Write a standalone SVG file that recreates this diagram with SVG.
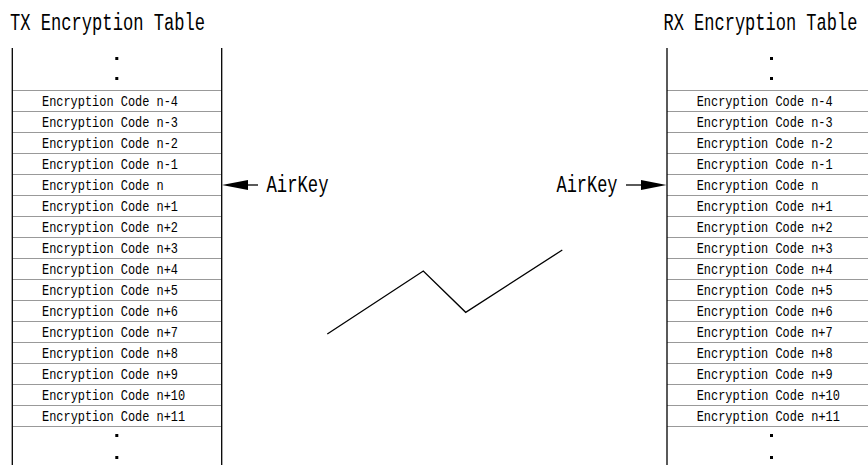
<svg xmlns="http://www.w3.org/2000/svg" width="868" height="465" viewBox="0 0 868 465">
<style>
.title{font-family:"Liberation Mono","DejaVu Sans Mono",monospace;font-size:23.5px;fill:#000}
.code{font-family:"Liberation Mono","DejaVu Sans Mono",monospace;font-size:14.5px;fill:#000}
.sep{stroke:#999;stroke-width:1}
.side{stroke:#000;stroke-width:1.3}
.dot{fill:#000}
.conn{stroke:#000;stroke-width:1.3;fill:none}
</style>
<defs>
<g id="rows">
<line class="sep" x1="0" y1="90.5" x2="209" y2="90.5"/>
<line class="sep" x1="0" y1="111.5" x2="209" y2="111.5"/>
<line class="sep" x1="0" y1="132.5" x2="209" y2="132.5"/>
<line class="sep" x1="0" y1="153.5" x2="209" y2="153.5"/>
<line class="sep" x1="0" y1="174.5" x2="209" y2="174.5"/>
<line class="sep" x1="0" y1="195.5" x2="209" y2="195.5"/>
<line class="sep" x1="0" y1="216.5" x2="209" y2="216.5"/>
<line class="sep" x1="0" y1="237.5" x2="209" y2="237.5"/>
<line class="sep" x1="0" y1="258.5" x2="209" y2="258.5"/>
<line class="sep" x1="0" y1="279.5" x2="209" y2="279.5"/>
<line class="sep" x1="0" y1="300.5" x2="209" y2="300.5"/>
<line class="sep" x1="0" y1="321.5" x2="209" y2="321.5"/>
<line class="sep" x1="0" y1="342.5" x2="209" y2="342.5"/>
<line class="sep" x1="0" y1="363.5" x2="209" y2="363.5"/>
<line class="sep" x1="0" y1="384.5" x2="209" y2="384.5"/>
<line class="sep" x1="0" y1="405.5" x2="209" y2="405.5"/>
<line class="sep" x1="0" y1="426.5" x2="209" y2="426.5"/>
<line class="side" x1="0" y1="48" x2="0" y2="465"/>
<line class="side" x1="209.4" y1="48" x2="209.4" y2="465"/>
<rect class="dot" x="103" y="57" width="3" height="3"/>
<rect class="dot" x="103" y="77" width="3" height="3"/>
<rect class="dot" x="103" y="434" width="3" height="3"/>
<rect class="dot" x="103" y="456" width="3" height="3"/>
<text class="code" x="29.7" y="105.5" textLength="136" lengthAdjust="spacingAndGlyphs">Encryption Code n-4</text>
<text class="code" x="29.7" y="126.5" textLength="136" lengthAdjust="spacingAndGlyphs">Encryption Code n-3</text>
<text class="code" x="29.7" y="147.5" textLength="136" lengthAdjust="spacingAndGlyphs">Encryption Code n-2</text>
<text class="code" x="29.7" y="168.5" textLength="136" lengthAdjust="spacingAndGlyphs">Encryption Code n-1</text>
<text class="code" x="29.7" y="189.5" textLength="121.7" lengthAdjust="spacingAndGlyphs">Encryption Code n</text>
<text class="code" x="29.7" y="210.5" textLength="136" lengthAdjust="spacingAndGlyphs">Encryption Code n+1</text>
<text class="code" x="29.7" y="231.5" textLength="136" lengthAdjust="spacingAndGlyphs">Encryption Code n+2</text>
<text class="code" x="29.7" y="252.5" textLength="136" lengthAdjust="spacingAndGlyphs">Encryption Code n+3</text>
<text class="code" x="29.7" y="273.5" textLength="136" lengthAdjust="spacingAndGlyphs">Encryption Code n+4</text>
<text class="code" x="29.7" y="294.5" textLength="136" lengthAdjust="spacingAndGlyphs">Encryption Code n+5</text>
<text class="code" x="29.7" y="315.5" textLength="136" lengthAdjust="spacingAndGlyphs">Encryption Code n+6</text>
<text class="code" x="29.7" y="336.5" textLength="136" lengthAdjust="spacingAndGlyphs">Encryption Code n+7</text>
<text class="code" x="29.7" y="357.5" textLength="136" lengthAdjust="spacingAndGlyphs">Encryption Code n+8</text>
<text class="code" x="29.7" y="378.5" textLength="136" lengthAdjust="spacingAndGlyphs">Encryption Code n+9</text>
<text class="code" x="29.7" y="399.5" textLength="143.2" lengthAdjust="spacingAndGlyphs">Encryption Code n+10</text>
<text class="code" x="29.7" y="420.5" textLength="143.2" lengthAdjust="spacingAndGlyphs">Encryption Code n+11</text>
</g>
</defs>

<g id="tx-table">
<text class="title" transform="translate(10,30) scale(0.728,1)">TX Encryption Table</text>
<use href="#rows" x="12.3" y="0"/>
</g>

<g id="rx-table">
<text class="title" transform="translate(663.5,30) scale(0.724,1)">RX Encryption Table</text>
<use href="#rows" x="667" y="0"/>
</g>

<g id="tx-airkey">
<text class="title" transform="translate(266.5,192) scale(0.733,1)">AirKey</text>
</g>

<g id="rx-airkey">
<text class="title" transform="translate(556.5,192) scale(0.721,1)">AirKey</text>
</g>

<g id="connectors">
<line class="conn" x1="258" y1="185" x2="246" y2="185"/>
<polygon points="222,185 248,180 248,190" fill="#000"/>
<line class="conn" x1="626" y1="185" x2="643" y2="185"/>
<polygon points="666.5,185 641,180 641,190" fill="#000"/>
<polyline class="conn" points="327.3,334 423.3,271 465.7,312.3 562.3,250"/>
</g>
</svg>
